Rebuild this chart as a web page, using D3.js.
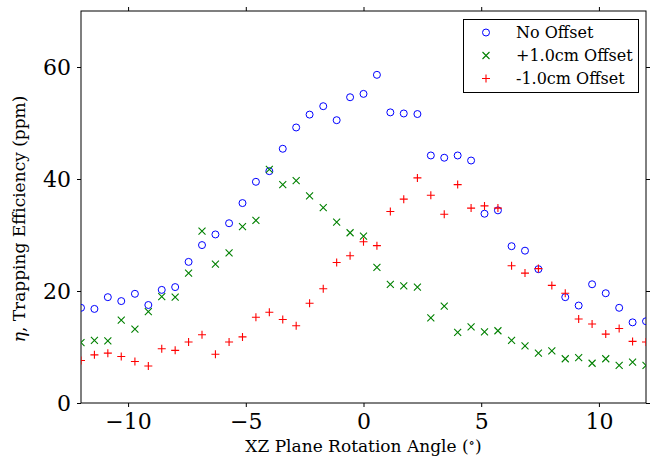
<!DOCTYPE html>
<html>
<head>
<meta charset="utf-8">
<script src="https://cdn.jsdelivr.net/npm/d3@7"></script>
<style>
  body { margin: 0; background: #fff; }
  svg text { font-family: "DejaVu Serif", "Liberation Serif", serif; }
</style>
</head>
<body>
<div id="chart"></div>
<script>
// rotation angles (deg)
var angles = [-12, -11.43, -10.86, -10.29, -9.71, -9.14, -8.57, -8, -7.43, -6.86, -6.29,
  -5.71, -5.14, -4.57, -4, -3.43, -2.86, -2.29, -1.71, -1.14, -0.57, 0,
  0.57, 1.14, 1.71, 2.29, 2.86, 3.43, 4, 4.57, 5.14, 5.71, 6.29,
  6.86, 7.43, 8, 8.57, 9.14, 9.71, 10.29, 10.86, 11.43, 12];

var noOffset = [17.0, 16.8, 18.9, 18.2, 19.5, 17.5, 20.2, 20.7, 25.2, 28.2, 30.1,
  32.1, 35.7, 39.5, 41.4, 45.4, 49.2, 51.5, 53.0, 50.5, 54.6, 55.2,
  58.6, 51.9, 51.7, 51.6, 44.2, 43.8, 44.2, 43.3, 33.8, 34.4, 28.0,
  27.2, 23.9, null, 18.9, 17.4, 21.2, 19.6, 17.0, 14.4, 14.6];

var plusOffset = [10.8, 11.2, 11.1, 14.8, 13.2, 16.3, 19.0, 18.9, 23.2, 30.7, 24.8,
  26.8, 31.5, 32.6, 41.7, 39.0, 39.7, 37.0, 34.9, 32.3, 30.4, 29.8,
  24.2, 21.2, 20.9, 20.7, 15.2, 17.3, 12.6, 13.6, 12.7, 12.9, 11.2,
  10.2, 8.9, 9.3, 7.9, 8.1, 7.1, 7.9, 6.7, 7.3, 6.7];

var minusOffset = [7.6, 8.6, 8.9, 8.3, 7.4, 6.6, 9.7, 9.4, 10.9, 12.2, 8.7,
  10.9, 11.8, 15.3, 16.2, 14.9, 13.8, 17.8, 20.4, 25.1, 26.3, 28.8,
  28.1, 34.2, 36.4, 40.2, 37.1, 33.7, 39.0, 34.8, 35.2, 34.8, 24.5,
  23.2, 24.0, 21.0, 19.6, 15.0, 14.1, 12.3, 13.3, 11.0, 10.9];

var seriesNames = ["No Offset", "+1.0cm Offset", "-1.0cm Offset"];
var xTicks = [-10, -5, 0, 5, 10];
var yTicks = [0, 20, 40, 60];

var width = 651, height = 458;
var plotL = 81, plotR = 646, plotT = 11, plotB = 403;
var serif = '"DejaVu Serif", "Liberation Serif", serif';

var svg = d3.select("#chart").append("svg")
  .attr("width", width)
  .attr("height", height);

var x = d3.scaleLinear().domain([-12, 12]).range([plotL, plotR]);
var y = d3.scaleLinear().domain([0, 70]).range([plotB, plotT]);

svg.append("clipPath").attr("id", "plotclip")
  .append("rect")
  .attr("x", plotL).attr("y", plotT)
  .attr("width", plotR - plotL).attr("height", plotB - plotT);

// axes (ticks outward on all four sides, labels bottom/left)
function styleAxis(g, showLabels) {
  g.attr("font-family", null);
  g.select(".domain").remove();
  g.selectAll(".tick line").attr("stroke", "#000");
  g.selectAll(".tick text")
    .style("font-family", serif)
    .style("font-size", "22px")
    .attr("fill", "#000");
  if (!showLabels) g.selectAll(".tick text").remove();
}

var fmt = function(d) { return d < 0 ? "\u2212" + Math.abs(d) : "" + d; };

svg.append("g").attr("transform", "translate(0," + plotB + ")")
  .call(d3.axisBottom(x).tickValues(xTicks).tickSize(4).tickPadding(6).tickFormat(fmt))
  .call(styleAxis, true);
svg.append("g").attr("transform", "translate(0," + plotT + ")")
  .call(d3.axisTop(x).tickValues(xTicks).tickSize(4))
  .call(styleAxis, false);
svg.append("g").attr("transform", "translate(" + plotL + ",0)")
  .call(d3.axisLeft(y).tickValues(yTicks).tickSize(4).tickPadding(6).tickFormat(fmt))
  .call(styleAxis, true);
svg.append("g").attr("transform", "translate(" + plotR + ",0)")
  .call(d3.axisRight(y).tickValues(yTicks).tickSize(4))
  .call(styleAxis, false);

// frame
svg.append("rect")
  .attr("x", plotL).attr("y", plotT)
  .attr("width", plotR - plotL).attr("height", plotB - plotT)
  .attr("fill", "none").attr("stroke", "#000").attr("stroke-width", 1);

// markers
var plot = svg.append("g").attr("clip-path", "url(#plotclip)");

function drawMarker(g, kind, cx, cy) {
  if (kind === "o") {
    g.append("circle").attr("cx", cx).attr("cy", cy).attr("r", 3.5)
      .attr("fill", "none").attr("stroke", "#0000ff").attr("stroke-width", 1);
  } else if (kind === "x") {
    var s = 3.5;
    g.append("path")
      .attr("d", "M" + (cx - s) + "," + (cy - s) + "L" + (cx + s) + "," + (cy + s) +
        "M" + (cx - s) + "," + (cy + s) + "L" + (cx + s) + "," + (cy - s))
      .attr("stroke", "#008000").attr("stroke-width", 1.1).attr("fill", "none");
  } else {
    var p = 4;
    g.append("path")
      .attr("d", "M" + (cx - p) + "," + cy + "L" + (cx + p) + "," + cy +
        "M" + cx + "," + (cy - p) + "L" + cx + "," + (cy + p))
      .attr("stroke", "#ff0000").attr("stroke-width", 1.1).attr("fill", "none");
  }
}

var series = [
  { values: noOffset, kind: "o" },
  { values: plusOffset, kind: "x" },
  { values: minusOffset, kind: "+" }
];

series.forEach(function(s) {
  var g = plot.append("g");
  s.values.forEach(function(v, i) {
    if (v == null) return;
    drawMarker(g, s.kind, x(angles[i]), y(v));
  });
});

// axis labels
var xl = svg.append("text")
  .attr("x", (plotL + plotR) / 2).attr("y", 452)
  .attr("text-anchor", "middle")
  .style("font-family", serif)
  .style("font-size", "17px");
xl.append("tspan").text("XZ Plane Rotation Angle (");
xl.append("tspan").text("\u2218").attr("dy", -5).style("font-size", "13px");
xl.append("tspan").text(")").attr("dy", 5);

var yl = svg.append("text")
  .attr("transform", "translate(25," + ((plotT + plotB) / 2 + 12) + ") rotate(-90)")
  .attr("text-anchor", "middle")
  .style("font-family", serif)
  .style("font-size", "17px");
yl.append("tspan").text("\u03b7").style("font-style", "italic");
yl.append("tspan").text(", Trapping Efficiency (ppm)");

// legend
var legend = svg.append("g");
legend.append("rect")
  .attr("x", 463.5).attr("y", 19.5).attr("width", 175).attr("height", 73)
  .attr("fill", "#fff").attr("stroke", "#000").attr("stroke-width", 1);

var legendKinds = ["o", "x", "+"];
var rowY = [32.5, 55.5, 78.5];
seriesNames.forEach(function(name, i) {
  drawMarker(legend, legendKinds[i], 486, rowY[i]);
  legend.append("text")
    .attr("x", 516).attr("y", rowY[i] + 5.5)
    .style("font-family", serif)
    .style("font-size", "16px")
    .text(name);
});
</script>
</body>
</html>
